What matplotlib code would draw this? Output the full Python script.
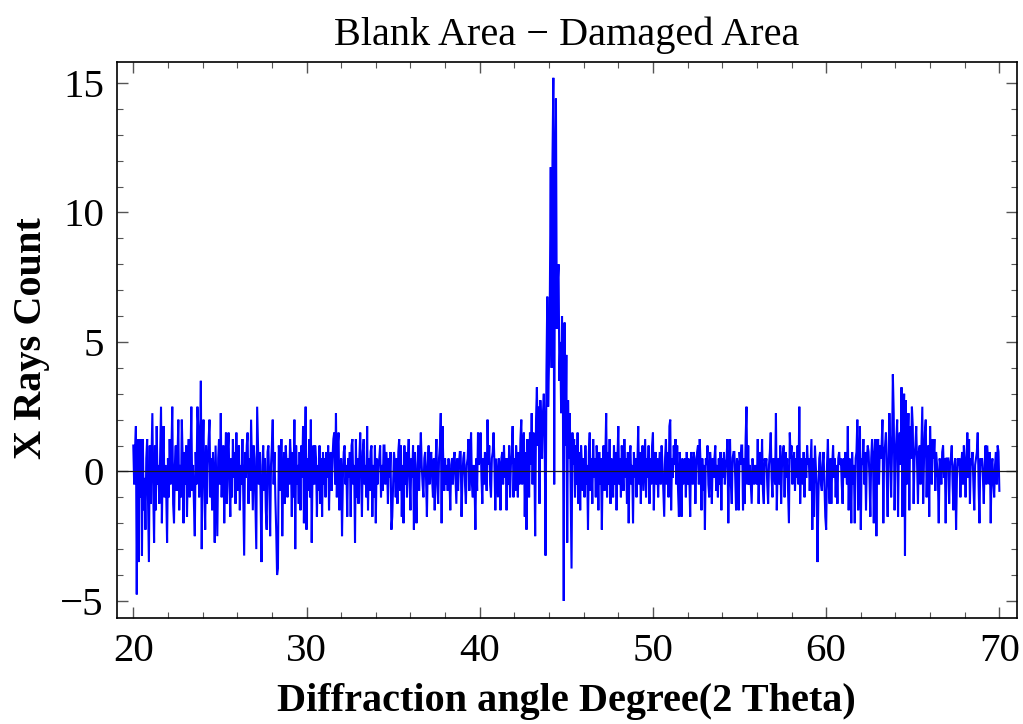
import numpy as np
import matplotlib
matplotlib.use("Agg")
import matplotlib.pyplot as plt
from matplotlib.ticker import MultipleLocator

# ---------------- data ----------------
x_start = 20.0
x_step = 0.05

counts = [
    # 20
    1.0, -0.5, 0.75, 1.75, -4.75, 1.25, -3.5, 1.25, -1.0, 1.25, -3.25, 1.25, -1.5, -0.25, -2.25, 0.5, 1.25, -1.25, -3.5, 1.0,
    # 21
    -1.25, 0.5, 2.25, -0.75, -2.75, 1.0, -1.5, 1.75, -0.5, 0.25, -1.25, 0.75, 2.5, -2.0, 0.5, 1.75, -1.0, 0.25, -0.75, -2.75,
    # 22
    0.5, -1.0, 1.25, -0.5, 0.75, 2.5, -1.25, -2.0, 0.25, 1.0, -0.75, 0.5, 2.0, -1.5, 0.25, -1.0, 2.0, 0.5, -2.0, 0.75,
    # 23
    -0.5, 1.0, -1.75, 0.25, 1.25, -1.0, 0.5, 2.5, -0.75, 0.25, -1.25, -2.5, 0.75, -0.5, 2.5, 1.75, -1.0, 0.5, 3.5, -3.0,
    # 24
    0.75, 2.0, -0.5, -2.25, 1.0, -1.25, 0.25, 1.25, 2.0, -1.0, 0.5, -1.5, 0.75, -0.25, -2.75, 1.0, -0.75, -2.5, 0.5, 1.25,
    # 25
    -0.5, 2.25, -1.0, 0.5, 1.0, -2.0, 0.25, 1.5, -1.25, 0.75, 1.5, -0.5, -1.75, 0.5, -1.0, 1.25, -0.25, 0.75, -1.25, 1.5,
    # 26
    -0.75, 0.5, 1.0, -1.5, 0.25, -0.5, 1.25, -1.0, -3.25, 0.75, -0.25, 1.0, 1.5, -1.25, 0.5, -0.75, 2.0, 0.25, -1.5, 1.0,
    # 27
    0.5, -1.25, -3.0, 2.5, 1.0, -0.5, 0.75, -1.0, -3.5, 0.25, 1.0, -0.75, 0.5, -1.5, -2.25, 0.75, 1.0, -0.5, -2.5, 0.25,
    # 28
    1.0, 2.0, -0.5, 0.75, -1.0, -2.25, -4.0, -3.75, 1.0, 0.5, -0.75, 1.25, -2.5, -0.25, 0.75, -1.25, 1.0, 0.25, -1.0, 0.5,
    # 29
    -0.5, 1.25, 0.5, -1.75, 0.75, -1.0, 2.0, -3.0, 1.0, -0.5, 0.25, -1.25, 0.75, -1.5, 1.0, -0.25, 1.75, -2.0, 0.5, 2.5,
    # 30
    -2.25, 0.5, -0.75, 1.25, -1.0, 2.0, -2.75, 0.25, 1.0, -0.5, 1.0, 0.5, -1.75, 0.25, -0.75, 1.0, -1.25, 0.5, -1.75, 0.75,
    # 31
    -0.5, 0.5, -1.0, 0.75, -0.25, 1.0, -1.5, 0.25, 0.75, -0.75, 0.5, 1.25, 1.5, -0.5, 2.25, -1.0, 1.0, 1.5, -1.5, 0.25,
    # 32
    0.5, -2.5, -0.25, 0.75, 1.0, -0.5, 0.25, -1.75, 0.5, -0.25, 0.75, -1.75, 1.0, 1.25, -0.5, 0.25, -2.75, 1.25, -1.0, 0.5,
    # 33
    -1.25, 0.5, 1.5, -0.25, -1.75, 0.75, 1.25, -0.5, 0.25, -1.0, 1.75, -1.5, 0.5, -0.75, 0.75, 1.0, -1.75, 0.25, -1.0, 1.0,
    # 34
    -2.0, 0.5, -0.5, 0.25, 0.5, 1.0, -1.0, 0.25, -0.75, 1.0, 1.0, -0.5, 0.75, 0.25, -1.25, 0.5, -0.25, 0.75, -2.25, -1.75,
    # 35
    -0.5, 0.75, 0.25, -1.0, 0.5, -1.25, 0.75, 1.25, -0.75, 1.0, -1.75, 0.25, -2.0, 1.0, -0.5, 0.75, -1.0, 0.5, 1.25, -0.25,
    # 36
    -1.5, 0.5, -0.25, 1.0, -2.25, 0.75, -0.5, -2.0, 0.25, 1.0, -0.75, 0.5, 1.5, 0.25, -0.5, -1.0, 0.5, 0.75, -0.25, -1.75,
    # 37
    0.25, 1.0, -0.5, 0.5, 0.75, -0.25, -1.0, 0.5, -1.5, 0.25, 1.25, -0.5, -1.25, 0.5, 1.0, 2.25, -2.0, 1.75, 0.25, -0.75,
    # 38
    0.5, -0.5, 0.25, -0.75, 0.5, -0.25, -1.5, 0.25, 0.5, -0.5, 0.5, 0.75, -0.25, -1.25, 0.5, -0.75, 0.25, 0.75, 0.75, -1.75,
    # 39
    -0.25, 0.5, 0.75, -0.5, -1.25, 0.25, 0.5, 1.25, -0.75, 0.5, 1.5, -0.5, -1.0, 0.25, -0.5, -2.25, 0.5, -0.75, 1.5, 0.25,
    # 40
    0.5, 1.5, -0.25, -1.25, 0.5, -0.5, 0.75, 0.25, -0.75, 2.0, 0.25, 1.0, -0.5, -1.0, 0.5, 0.75, 1.5, 0.25, -1.5, 0.5,
    # 41
    -0.25, -1.0, 0.5, 0.25, -1.5, 0.5, 0.75, -0.5, 1.0, -0.25, 0.5, -1.5, 0.5, -0.5, 1.0, -1.0, 0.25, 0.75, 1.75, -1.0,
    # 42
    0.5, -0.75, 1.0, 0.25, -1.0, 0.75, -0.5, 1.25, 2.0, -0.5, 1.0, 1.5, -1.75, 0.75, -2.25, 1.25, 0.5, -1.0, 1.5, 0.25,
    # 43
    2.25, -0.5, 1.5, 0.75, -2.5, 2.0, 3.25, 1.0, 2.5, -1.25, 2.75, 1.5, 0.5, 2.25, 3.0, 1.25, -3.25, 3.75, 6.75, 2.5,
    # 44
    4.25, 7.0, 11.75, 4.0, 12.0, 15.2, -0.5, 11.5, 14.4, 5.5, 7.25, 8.0, 3.5, 5.0, 2.25, 6.0, 3.0, -5.0, 5.75, 1.0,
    # 45
    4.5, -2.75, 2.75, 0.5, 2.25, -0.75, -3.75, 1.5, 0.25, 1.25, -1.0, 1.0, -0.5, 1.5, -1.25, 0.75, -1.5, 1.0, 0.25, -0.75,
    # 46
    0.5, -1.0, 1.0, -0.5, 0.25, -2.25, 0.75, 1.5, -0.75, 0.5, -1.25, 1.25, -0.25, 0.5, -1.0, 1.0, 0.25, -1.5, 0.75, -0.5,
    # 47
    0.5, -2.25, 0.25, 1.0, -0.75, 0.5, 2.25, -1.0, 0.75, -0.5, 1.25, -1.25, 0.5, 0.25, -1.0, 1.0, -0.5, 0.75, -1.5, 0.5,
    # 48
    1.75, -0.5, 0.5, -1.0, 1.0, 0.25, -0.75, 1.25, -0.25, 0.5, -1.25, 0.75, -2.0, 0.5, 1.0, -0.5, 0.25, -2.0, 0.75, -0.25,
    # 49
    0.5, -1.0, 0.25, 1.75, -0.5, 0.75, -1.25, 0.5, 1.0, -0.75, 0.25, 1.25, -1.0, 0.5, -0.25, 1.0, -1.25, 0.5, -0.5, 1.0,
    # 50
    1.5, -1.5, 0.25, 0.75, -0.5, 0.5, -1.0, 0.25, 0.75, -0.5, 1.0, 0.25, -0.75, -1.75, 0.5, 1.25, -0.5, 0.75, -1.0, 1.75,
    # 51
    2.0, -1.5, 0.5, -0.25, 1.0, 0.25, 1.25, -0.5, 1.0, -0.75, -1.75, 0.75, -0.25, -1.75, 0.5, -0.5, 0.25, 0.5, -1.0, 0.75,
    # 52
    -0.5, 0.5, -0.25, -1.75, 0.75, 0.25, -0.5, 0.75, 0.5, -1.25, 0.25, 0.75, 1.0, -0.5, 1.25, 0.25, -1.5, 0.5, -0.75, 0.25,
    # 53
    -2.25, 0.5, 0.25, 1.0, -0.5, -1.0, 0.75, 0.25, -1.25, 0.5, -0.25, 0.5, 1.0, -0.75, 0.25, -1.0, 0.5, -0.5, 0.75, -1.5,
    # 54
    0.5, -0.25, 0.75, -0.5, 0.25, 0.5, 1.25, -2.0, 0.25, 1.25, -0.5, -1.25, 0.5, 0.75, 0.75, -0.25, -1.5, 0.5, 0.25, -1.5,
    # 55
    0.75, 0.25, 1.0, 1.0, -1.5, 0.5, -1.25, 1.25, 2.5, -0.5, 1.0, -0.5, 0.25, -0.5, -1.25, 0.5, -0.25, -0.5, 0.25, -0.25,
    # 56
    -0.5, 1.25, -1.25, 0.25, 0.75, -0.5, 1.25, -0.75, -1.25, 0.5, 0.25, 0.5, -0.5, -1.25, 0.25, 0.75, 1.5, -0.25, -1.0, 0.5,
    # 57
    0.25, -0.5, 2.25, -1.5, 0.25, 0.5, -0.5, 1.0, -1.25, 0.25, 0.75, 1.0, -1.0, 0.75, -0.25, 0.5, -0.75, -2.0, 1.5, 0.5,
    # 58
    1.0, -0.5, 0.25, 0.75, -0.75, 0.5, -0.25, 1.0, -0.5, 2.5, -1.25, 0.5, 0.25, -0.5, 0.75, -1.0, 0.5, -0.25, 1.0, 0.25,
    # 59
    0.5, -0.75, 0.25, 1.25, -2.25, 0.5, -1.75, 1.0, 0.25, -0.5, -3.5, -1.0, 0.5, 0.75, -0.5, -0.75, 0.25, 0.75, -0.5, -1.75,
    # 60
    -2.25, 0.25, 1.25, -0.5, -1.25, 0.5, -1.25, 0.25, 1.0, -0.25, 0.5, -1.0, 0.25, -1.25, 0.5, 0.75, 0.25, 0.5, -0.5, -1.25,
    # 61
    0.5, -0.25, 0.75, 0.25, -0.5, 1.75, -1.5, 0.5, 0.25, -2.0, 0.75, -0.5, 0.25, -2.0, 0.5, 0.75, 2.0, -1.5, 0.25, 1.75,
    # 62
    -2.25, 0.5, 0.25, 1.25, -0.5, 0.75, -1.5, 0.5, 1.0, 0.75, -0.25, -1.75, 0.5, 1.25, 0.75, -2.0, 0.5, 1.25, -2.5, 0.75,
    # 63
    1.25, -0.5, 1.0, 0.5, 1.0, 2.0, -2.0, 0.75, 1.0, 1.5, -0.25, -1.75, 0.5, 2.25, 1.0, -1.0, 0.75, 3.75, 2.25, -1.5,
    # 64
    0.5, 1.25, 2.0, -1.75, 1.0, 1.5, 0.25, 3.25, -1.75, 1.5, 3.0, -3.25, 2.75, -0.5, 1.0, 2.25, -1.5, 1.75, 0.5, 2.5,
    # 65
    1.75, -1.25, 0.5, 1.0, 1.75, 0.25, -1.25, 0.75, 1.0, -0.5, 1.0, 2.5, -1.25, 0.5, 1.5, 2.0, -1.0, 0.5, 1.0, -1.75,
    # 66
    1.75, 0.25, -0.5, 1.25, 0.5, 1.25, -0.75, 0.75, 0.25, -0.25, -2.0, 0.5, 0.25, -0.5, 0.75, 1.0, -0.25, 0.5, -2.0, 0.5,
    # 67
    0.5, 0.5, -1.25, 0.25, 0.5, 1.0, -0.5, -1.5, 0.25, 0.5, -2.25, -0.25, 0.5, 0.25, 0.5, -1.0, 0.25, 0.75, -0.5, 1.0,
    # 68
    0.25, -1.0, 0.5, 1.5, -0.25, 1.25, -1.25, 0.5, 0.25, 0.75, -0.5, -1.5, 0.25, 0.5, 0.75, 1.5, -0.5, -2.0, 0.5, 0.25,
    # 69
    0.5, -0.25, -1.25, 0.25, 1.0, -0.5, 1.0, 0.25, -0.5, 0.75, -2.0, 0.25, 0.5, -0.5, -1.0, 0.25, 0.75, -0.5, 1.0, 0.75,
    # 70
    -0.75,
]

x_ticks = [20, 30, 40, 50, 60, 70]
y_ticks = [-5, 0, 5, 10, 15]

title = "Blank Area \u2212 Damaged Area"
x_label = "Diffraction angle Degree(2 Theta)"
y_label = "X Rays Count"

# ---------------- figure ----------------
angles = x_start + x_step * np.arange(len(counts))

plt.rcParams["font.family"] = ["Liberation Serif", "DejaVu Serif"]

fig = plt.figure(figsize=(10.23, 7.24), dpi=100)
ax = fig.add_axes([116.5 / 1023, 1 - 618 / 724, (1016.7 - 116.5) / 1023, (618 - 61.5) / 724])

ax.plot(angles, counts, color=(0, 0, 1), lw=1.5, zorder=2, solid_joinstyle="miter")
ax.axhline(0, color="#1a1a1a", lw=0.9, zorder=3)

ax.set_xlim(19.03, 71.0)
ax.set_ylim(-5.66, 15.83)

ax.set_xticks(x_ticks)
ax.set_yticks(y_ticks)
ax.set_yticklabels(["\u22125", "0", "5", "10", "15"])
ax.xaxis.set_minor_locator(MultipleLocator(2))
ax.yaxis.set_minor_locator(MultipleLocator(1))

ax.tick_params(which="both", direction="in", top=True, right=True, color="#555555")
ax.tick_params(which="major", length=8.0, width=1.0, labelsize=29.5)
ax.tick_params(which="minor", length=4.5, width=0.8)
ax.tick_params(axis="x", which="major", pad=11)
ax.tick_params(axis="y", which="major", pad=9)

for s in ax.spines.values():
    s.set_linewidth(1.2)
    s.set_color("black")

fig.text(566.6 / 1023, 1 - 45 / 724, title, ha="center", va="baseline", fontsize=29)
fig.text(566.6 / 1023, 1 - 711 / 724, x_label, ha="center", va="baseline", fontsize=29,
         fontweight="bold")
fig.text(32 / 1023, 1 - 338 / 724, y_label, ha="center", va="center", rotation=90,
         fontsize=29, fontweight="bold")

fig.savefig("out.png", dpi=100)
